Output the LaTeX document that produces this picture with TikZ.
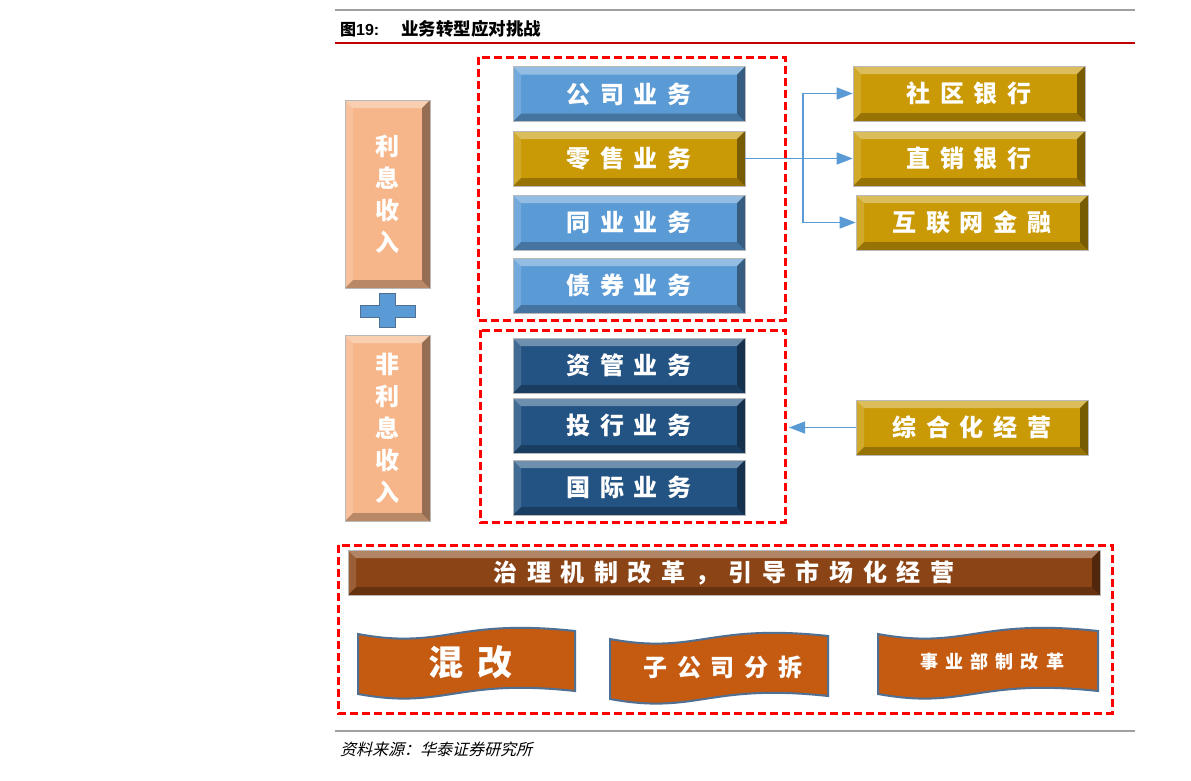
\documentclass[tikz,border=0pt]{standalone}
\usepackage{fontspec}
\setmainfont{Liberation Sans}
\newfontfamily\cjk{Noto Sans CJK SC}
\newfontfamily\cjkwide[LetterSpace=40]{Noto Sans CJK SC}
\newfontfamily\cjkslant[FakeSlant=0.25]{Noto Sans CJK SC}
\usetikzlibrary{calc,arrows.meta}
\definecolor{peach}{HTML}{F7B68A}
\definecolor{sky}{HTML}{5B9BD5}
\definecolor{gold}{HTML}{C99A06}
\definecolor{navy}{HTML}{235383}
\definecolor{bark}{HTML}{8A4416}
\definecolor{rust}{HTML}{C55A11}
\definecolor{steel}{HTML}{4F6F93}
\definecolor{rule}{HTML}{A0A0A0}
\definecolor{redline}{HTML}{C00000}
\tikzset{
  bev/.style={path picture={
    \path (path picture bounding box.north west) coordinate (p1) (path picture bounding box.north east) coordinate (p2)
          (path picture bounding box.south east) coordinate (p3) (path picture bounding box.south west) coordinate (p4);
    \fill[white,opacity=.35] (p1)--(p2)--($(p2)+(-8,8)$)--($(p1)+(8,8)$)--cycle;
    \fill[white,opacity=.15] (p1)--($(p1)+(8,8)$)--($(p4)+(8,-8)$)--(p4)--cycle;
    \fill[black,opacity=.4] (p2)--(p3)--($(p3)+(-8,-8)$)--($(p2)+(-8,8)$)--cycle;
    \fill[black,opacity=.25] (p4)--($(p4)+(8,-8)$)--($(p3)+(-8,-8)$)--(p3)--cycle;}},
  tile/.style={bev,fill=#1,draw=gray!55,line width=.6pt,minimum width=232pt,minimum height=55pt,inner sep=0pt,
    text=white,font=\cjkwide\bfseries\fontsize{24}{24}\selectfont},
  pillar/.style={tile=peach,minimum width=85pt,align=center,font=\cjk\bfseries\fontsize{24}{32}\selectfont},
  frame/.style={red,line width=3pt,dash pattern=on 8pt off 4pt},
  link/.style={sky,line width=1.3pt,-{Triangle[length=16pt,width=12pt]}},
  wave/.style={fill=rust,draw=steel,line width=2pt}
}
\begin{document}
\begin{tikzpicture}[x=1pt,y=-1pt]
  \useasboundingbox[fill=white] (0,0) rectangle (1191,780);
  % heading
  \draw[rule,line width=2pt] (335,10)--(1135,10);
  \draw[redline,line width=1.5pt] (335,43)--(1135,43);
  \node[anchor=west,inner sep=0pt,font=\fontsize{16}{17}\selectfont] (title) at (340,29)
    {{\cjk\bfseries 图}\textbf{19:}\hspace{22pt}{\cjk\bfseries\fontsize{17.5}{18}\selectfont 业务转型应对挑战}};
  % income
  \node[pillar,minimum height=188pt] (nii) at (387.5,194) {利\\息\\收\\入};
  \node[pillar,minimum height=186pt] (fee) at (387.5,428) {非\\利\\息\\收\\入};
  \filldraw[sky,draw=steel,line width=.8pt] (360,305)--(379,305)--(379,293)--(395,293)--(395,305)--(415,305)--(415,317)
    --(395,317)--(395,327)--(379,327)--(379,317)--(360,317)--cycle;
  % businesses
  \draw[frame] (478,57) rectangle (785,320);
  \draw[frame] (480,330) rectangle (785,522);
  \node[tile=sky] (corp) at (629,94) {公司业务};
  \node[tile=gold] (retail) at (629,158.5) {零售业务};
  \node[tile=sky] (interbank) at (629,222.5) {同业业务};
  \node[tile=sky] (bond) at (629,285.5) {债券业务};
  \node[tile=navy] (asset) at (629,365.5) {资管业务};
  \node[tile=navy] (invest) at (629,425.5) {投行业务};
  \node[tile=navy] (intl) at (629,487.5) {国际业务};
  % channels
  \node[tile=gold] (community) at (969,93.5) {社区银行};
  \node[tile=gold] (direct) at (969,158.5) {直销银行};
  \node[tile=gold] (internet) at (972,222.5) {互联网金融};
  \node[tile=gold] (integ) at (972,427.5) {综合化经营};
  \coordinate (fork) at (803,158.5);
  \coordinate (entry) at (789,427.5);
  \draw[link] (retail.east)--(direct.west);
  \draw[link] (fork) |- (community.west);
  \draw[link] (fork) |- (internet.west);
  \draw[link] (integ.west)--(entry);
  % governance
  \draw[frame] (338,545) rectangle (1112,713);
  \node[tile=bark,minimum width=752pt,minimum height=45pt] (gov) at (724,572.5) {治理机制改革，引导市场化经营};
  \foreach \n/\x/\y/\w/\s/\t in {mix/358/628/217/35/混改,sub/610/633/218/24/子公司分拆,div/878/628/220/18/事业部制改革}{
    \filldraw[wave] (\x,\y+6) .. controls (\x+.4*\w,\y+22) and (\x+.45*\w,\y-10) .. (\x+\w,\y+3)--(\x+\w,\y+63)
      .. controls (\x+.45*\w,\y+50) and (\x+.4*\w,\y+82) .. (\x,\y+66)--cycle;
    \node[text=white,font=\cjkwide\bfseries\fontsize{\s}{\s}\selectfont] (\n) at (\x+.5*\w+4,\y+34) {\t};
  }
  % source
  \draw[rule,line width=2pt] (335,731)--(1135,731);
  \node[anchor=west,inner sep=0pt,font=\cjkslant\fontsize{16}{17}\selectfont] (src) at (340,749) {资料来源：华泰证券研究所};
\end{tikzpicture}
\end{document}
